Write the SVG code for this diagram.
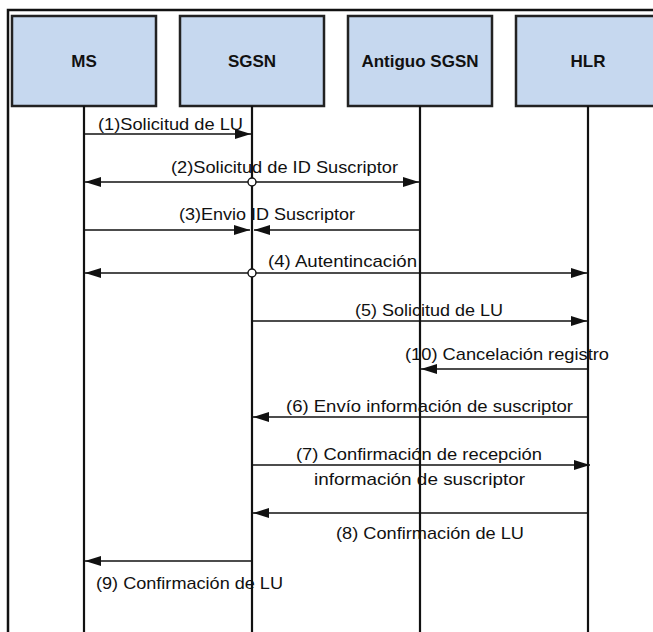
<svg xmlns="http://www.w3.org/2000/svg" width="653" height="632" viewBox="0 0 653 632">
<style>
.box{fill:#c6d8ef;stroke:#222;stroke-width:2.5}
.hdr{font-family:"Liberation Sans",Arial,sans-serif;font-weight:bold;font-size:17px;fill:#111;text-anchor:middle}
.life{stroke:#111;stroke-width:2.2;fill:none}
.msg{stroke:#111;stroke-width:1.4;fill:none}
.lbl{font-family:"Liberation Sans",Arial,sans-serif;font-size:17px;fill:#111}
.dot{fill:#fff;stroke:#111;stroke-width:1.4}
</style>
<defs>
<marker id="ah" viewBox="0 0 16 10" refX="16" refY="5" markerWidth="16" markerHeight="10" markerUnits="userSpaceOnUse" orient="auto">
<path d="M0,0 L16,5 L0,10 Z" fill="#111"/>
</marker>
</defs>
<rect x="0" y="0" width="653" height="632" fill="#fff"/>
<path d="M8,632 V10 H653" fill="none" stroke="#111" stroke-width="2.5"/>
<g id="ms">
<rect class="box" x="12" y="16" width="144" height="90"/>
<text class="hdr" x="84" y="67">MS</text>
<line class="life" x1="84" y1="106" x2="84" y2="632"/>
</g>
<g id="sgsn">
<rect class="box" x="180" y="16" width="144" height="90"/>
<text class="hdr" x="252" y="67">SGSN</text>
<line class="life" x1="252" y1="106" x2="252" y2="632"/>
</g>
<g id="antiguo">
<rect class="box" x="348" y="16" width="144" height="90"/>
<text class="hdr" x="420" y="67">Antiguo SGSN</text>
<line class="life" x1="420" y1="106" x2="420" y2="632"/>
</g>
<g id="hlr">
<rect class="box" x="516" y="16" width="150" height="90"/>
<text class="hdr" x="588" y="67">HLR</text>
<line class="life" x1="588" y1="106" x2="588" y2="632"/>
</g>
<g id="connectors">
<line class="msg" x1="84" y1="134" x2="251" y2="134" marker-end="url(#ah)"/>
<line class="msg" x1="252" y1="182" x2="85" y2="182" marker-end="url(#ah)"/>
<line class="msg" x1="252" y1="182" x2="419" y2="182" marker-end="url(#ah)"/>
<circle class="dot" cx="252" cy="182" r="4"/>
<line class="msg" x1="84" y1="230" x2="250" y2="230" marker-end="url(#ah)"/>
<line class="msg" x1="420" y1="230" x2="254" y2="230" marker-end="url(#ah)"/>
<line class="msg" x1="252" y1="273" x2="85" y2="273" marker-end="url(#ah)"/>
<line class="msg" x1="252" y1="273" x2="587" y2="273" marker-end="url(#ah)"/>
<circle class="dot" cx="252" cy="273" r="4"/>
<line class="msg" x1="252" y1="321" x2="587" y2="321" marker-end="url(#ah)"/>
<line class="msg" x1="588" y1="369" x2="421" y2="369" marker-end="url(#ah)"/>
<line class="msg" x1="588" y1="417" x2="253" y2="417" marker-end="url(#ah)"/>
<line class="msg" x1="252" y1="465" x2="590" y2="465" marker-end="url(#ah)"/>
<line class="msg" x1="588" y1="513" x2="253" y2="513" marker-end="url(#ah)"/>
<line class="msg" x1="252" y1="561" x2="85" y2="561" marker-end="url(#ah)"/>
<text class="lbl" x="98" y="130" textLength="145" lengthAdjust="spacingAndGlyphs">(1)Solicitud de LU</text>
<text class="lbl" x="171" y="173" textLength="227" lengthAdjust="spacingAndGlyphs">(2)Solicitud de ID Suscriptor</text>
<text class="lbl" x="179" y="220" textLength="176" lengthAdjust="spacingAndGlyphs">(3)Envio ID Suscriptor</text>
<text class="lbl" x="268" y="267" textLength="149" lengthAdjust="spacingAndGlyphs">(4) Autentincación</text>
<text class="lbl" x="355" y="316" textLength="148" lengthAdjust="spacingAndGlyphs">(5) Solicitud de LU</text>
<text class="lbl" x="405" y="360" textLength="204" lengthAdjust="spacingAndGlyphs">(10) Cancelación registro</text>
<text class="lbl" x="286" y="412" textLength="287" lengthAdjust="spacingAndGlyphs">(6) Envío información de suscriptor</text>
<text class="lbl" x="296" y="460" textLength="246" lengthAdjust="spacingAndGlyphs">(7) Confirmación de recepción</text>
<text class="lbl" x="314" y="485" textLength="211" lengthAdjust="spacingAndGlyphs">información de suscriptor</text>
<text class="lbl" x="336" y="539" textLength="188" lengthAdjust="spacingAndGlyphs">(8) Confirmación de LU</text>
<text class="lbl" x="96" y="589" textLength="187" lengthAdjust="spacingAndGlyphs">(9) Confirmación de LU</text>
</g>
</svg>
